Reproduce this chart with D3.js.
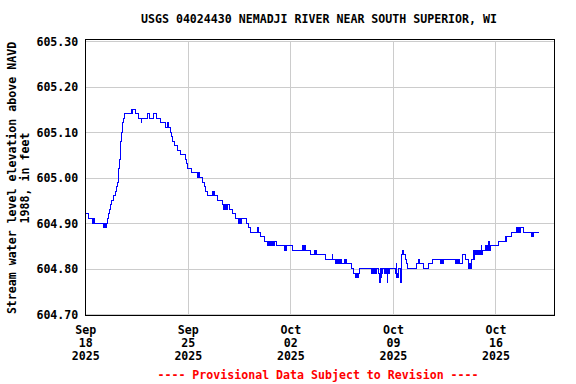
<!DOCTYPE html>
<html>
<head>
<meta charset="utf-8">
<script src="https://cdn.jsdelivr.net/npm/d3@7"></script>
<style>
  body { margin: 0; background: #fff; }
  svg text { font-family: "DejaVu Sans Mono", monospace; font-weight: bold; font-size: 11.6px; }
</style>
</head>
<body>
<svg id="chart"></svg>
<script>
// gage readings: [days since Sep 18 2025 00:00, elevation ft]
const gage = [
  [0.00, 604.92], [0.23, 604.91],
  [0.46, 604.90], [0.50, 604.91], [0.54, 604.90], [0.58, 604.91], [0.62, 604.90],
  [1.23, 604.89], [1.27, 604.90], [1.31, 604.89], [1.35, 604.90], [1.39, 604.89],
  [1.45, 604.90], [1.50, 604.91], [1.56, 604.92], [1.62, 604.93], [1.73, 604.94],
  [1.82, 604.95], [1.91, 604.96], [2.07, 604.97], [2.14, 604.98], [2.18, 604.99],
  [2.24, 605.00], [2.28, 605.02], [2.35, 605.04], [2.38, 605.06], [2.41, 605.08],
  [2.48, 605.10], [2.55, 605.12], [2.59, 605.13], [2.66, 605.14],
  [3.14, 605.15], [3.17, 605.14], [3.20, 605.15], [3.44, 605.14], [3.62, 605.13],
  [3.82, 605.12], [3.86, 605.13], [4.23, 605.14], [4.41, 605.13], [4.64, 605.14],
  [4.87, 605.13], [5.12, 605.12], [5.46, 605.11], [5.64, 605.12], [5.68, 605.11],
  [5.83, 605.10], [5.89, 605.09], [5.96, 605.08], [6.08, 605.07], [6.32, 605.06],
  [6.49, 605.05], [6.83, 605.04], [6.94, 605.03], [7.01, 605.02], [7.22, 605.01],
  [7.64, 605.00], [7.68, 605.01], [7.72, 605.00], [7.75, 605.01], [7.78, 605.00],
  [7.98, 604.99], [8.12, 604.98], [8.23, 604.97], [8.32, 604.96],
  [8.69, 604.97], [8.73, 604.96], [8.77, 604.97], [8.80, 604.96],
  [9.03, 604.95], [9.35, 604.94],
  [9.41, 604.93], [9.45, 604.94], [9.49, 604.93], [9.53, 604.94], [9.57, 604.93],
  [9.61, 604.94], [9.65, 604.93], [9.70, 604.94], [9.87, 604.93], [10.05, 604.92],
  [10.28, 604.91], [10.49, 604.90], [10.53, 604.91], [10.57, 604.90], [10.61, 604.91],
  [10.64, 604.90], [10.67, 604.91], [11.01, 604.90], [11.12, 604.89], [11.30, 604.88],
  [11.73, 604.89], [11.85, 604.88], [11.99, 604.87], [12.21, 604.86],
  [12.44, 604.85], [12.48, 604.86], [12.52, 604.85], [12.56, 604.86], [12.60, 604.85],
  [12.64, 604.86], [12.68, 604.85], [12.72, 604.86], [12.76, 604.85], [12.80, 604.86],
  [12.84, 604.85], [12.89, 604.86], [13.06, 604.85],
  [13.57, 604.84], [13.61, 604.85], [13.65, 604.84], [13.69, 604.85], [13.73, 604.84],
  [13.76, 604.85], [14.12, 604.84],
  [14.80, 604.85], [14.84, 604.84], [14.88, 604.85], [14.92, 604.84], [14.96, 604.85],
  [15.00, 604.84], [15.03, 604.85], [15.05, 604.84], [15.40, 604.83],
  [15.67, 604.84], [15.71, 604.83], [15.75, 604.84], [15.79, 604.83],
  [16.42, 604.82], [16.85, 604.83], [16.88, 604.82],
  [17.10, 604.81], [17.14, 604.82], [17.18, 604.81], [17.22, 604.82], [17.26, 604.81],
  [17.37, 604.82], [17.41, 604.81], [17.45, 604.82], [17.49, 604.81],
  [17.71, 604.82], [17.75, 604.81], [17.79, 604.82], [17.83, 604.81],
  [18.17, 604.80], [18.33, 604.79],
  [18.44, 604.78], [18.48, 604.79], [18.52, 604.78], [18.56, 604.79], [18.60, 604.78],
  [18.64, 604.79], [18.74, 604.80],
  [19.54, 604.79], [19.58, 604.80], [19.62, 604.79], [19.66, 604.80], [19.70, 604.79],
  [19.74, 604.80], [19.78, 604.79], [19.82, 604.80], [19.86, 604.79], [19.88, 604.80],
  [20.05, 604.79], [20.09, 604.77], [20.13, 604.79], [20.17, 604.80], [20.21, 604.78],
  [20.25, 604.80], [20.27, 604.79], [20.29, 604.80],
  [20.44, 604.79], [20.48, 604.80], [20.52, 604.79], [20.56, 604.80], [20.60, 604.77],
  [20.63, 604.79], [20.67, 604.80], [20.71, 604.79], [20.75, 604.80],
  [21.19, 604.79], [21.23, 604.81], [21.26, 604.78], [21.30, 604.79], [21.34, 604.78],
  [21.38, 604.80], [21.51, 604.77], [21.56, 604.80], [21.58, 604.82], [21.62, 604.83],
  [21.69, 604.84], [21.74, 604.83], [21.86, 604.82], [21.92, 604.81], [22.03, 604.80],
  [22.61, 604.81], [22.78, 604.82], [22.82, 604.81], [23.06, 604.80], [23.40, 604.81],
  [23.68, 604.82],
  [24.24, 604.81], [24.28, 604.82], [24.32, 604.81], [24.36, 604.82], [24.40, 604.81],
  [24.44, 604.82],
  [25.25, 604.81], [25.33, 604.82], [25.40, 604.81], [25.48, 604.82], [25.55, 604.81],
  [25.72, 604.83], [25.95, 604.82],
  [26.13, 604.81], [26.17, 604.80], [26.21, 604.81], [26.25, 604.80], [26.29, 604.81],
  [26.33, 604.80], [26.36, 604.82],
  [26.47, 604.83], [26.51, 604.84], [26.55, 604.82], [26.59, 604.84], [26.63, 604.83],
  [26.67, 604.84], [26.70, 604.83], [26.74, 604.84], [26.78, 604.83], [26.82, 604.84],
  [26.86, 604.83], [26.90, 604.84], [26.94, 604.83], [26.98, 604.84], [27.02, 604.83],
  [27.04, 604.85], [27.07, 604.84], [27.11, 604.83], [27.15, 604.84],
  [27.33, 604.85], [27.37, 604.84], [27.41, 604.85], [27.45, 604.84], [27.49, 604.85],
  [27.53, 604.84], [27.56, 604.86], [27.60, 604.85], [27.63, 604.84], [27.65, 604.85],
  [28.22, 604.86], [28.68, 604.87], [28.72, 604.86], [28.76, 604.87],
  [29.09, 604.88],
  [29.47, 604.89], [29.51, 604.88], [29.55, 604.89], [29.59, 604.88], [29.63, 604.89],
  [29.67, 604.88], [29.72, 604.89], [29.95, 604.88],
  [30.45, 604.87], [30.49, 604.88], [30.53, 604.87], [30.57, 604.88],
  [30.97, 604.88]
];

const yTicks = [604.70, 604.80, 604.90, 605.00, 605.10, 605.20, 605.30];
const xTickDays = [0, 7, 14, 21, 28];
const xTickLabels = [["Sep", "18", "2025"], ["Sep", "25", "2025"], ["Oct", "02", "2025"],
                     ["Oct", "09", "2025"], ["Oct", "16", "2025"]];
const title = "USGS 04024430 NEMADJI RIVER NEAR SOUTH SUPERIOR, WI";
const yTitle = ["Stream water level elevation above NAVD", "1988, in feet"];
const footer = "---- Provisional Data Subject to Revision ----";

const width = 576, height = 384;
const plotLeft = 85.3, plotRight = 554, plotTop = 41, plotBottom = 314;

const start = new Date(2025, 8, 18);
const toDate = (d) => d3.timeMinute.offset(start, Math.round(d * 1440));

const x = d3.scaleTime().domain([start, toDate(32)]).range([plotLeft, plotRight]);
const y = d3.scaleLinear().domain([604.70, 605.30]).range([plotBottom, plotTop]);

const svg = d3.select("#chart")
  .attr("width", width)
  .attr("height", height)
  .attr("viewBox", [0, 0, width, height]);

// grid
svg.append("g")
  .attr("transform", `translate(${plotLeft},0)`)
  .call(d3.axisLeft(y).tickValues(yTicks).tickSize(-(plotRight - plotLeft)).tickFormat(""))
  .call(g => g.select(".domain").remove())
  .call(g => g.selectAll("line").attr("stroke", "#cccccc").attr("shape-rendering", "crispEdges"));

svg.append("g")
  .attr("transform", `translate(0,${plotBottom})`)
  .call(d3.axisBottom(x).tickValues(xTickDays.map(toDate)).tickSize(-(plotBottom - plotTop)).tickFormat(""))
  .call(g => g.select(".domain").remove())
  .call(g => g.selectAll("line").attr("stroke", "#cccccc").attr("shape-rendering", "crispEdges"));

// data line
const line = d3.line()
  .x(d => x(toDate(d[0])))
  .y(d => y(d[1]))
  .curve(d3.curveStepAfter);

svg.append("path")
  .datum(gage)
  .attr("fill", "none")
  .attr("stroke", "#0000ff")
  .attr("stroke-width", 1)
  .attr("shape-rendering", "crispEdges")
  .attr("d", line);

// frame
svg.append("rect")
  .attr("x", 85.5).attr("y", 39.5)
  .attr("width", 469).attr("height", 276)
  .attr("fill", "none")
  .attr("stroke", "#000")
  .attr("stroke-width", 1);

// y labels
svg.append("g")
  .attr("transform", `translate(${plotLeft},0)`)
  .call(d3.axisLeft(y).tickValues(yTicks).tickSize(0).tickPadding(7).tickFormat(d3.format(".2f")))
  .call(g => g.select(".domain").remove())
  .call(g => g.selectAll("text")
    .attr("font-family", null).attr("font-size", null)
    .attr("fill", "#000").attr("dy", "0.35em"));

// x labels, three lines each
svg.append("g")
  .attr("transform", `translate(0,315)`)
  .call(d3.axisBottom(x).tickValues(xTickDays.map(toDate)).tickSize(0).tickFormat(""))
  .call(g => g.select(".domain").remove())
  .call(g => g.selectAll(".tick text")
    .attr("y", 19).attr("dy", null).attr("fill", "#000")
    .each(function (d, i) {
      d3.select(this).selectAll("tspan")
        .data(xTickLabels[i])
        .join("tspan")
        .attr("x", 0)
        .attr("dy", (t, j) => j === 0 ? 0 : 13)
        .text(t => t);
    }));

// titles
svg.append("text")
  .attr("x", 319).attr("y", 23)
  .attr("text-anchor", "middle")
  .text(title);

svg.append("g")
  .attr("transform", "translate(16,178) rotate(-90)")
  .selectAll("text")
  .data(yTitle)
  .join("text")
  .attr("x", 0)
  .attr("y", (d, i) => i * 13)
  .attr("text-anchor", "middle")
  .text(d => d);

svg.append("text")
  .attr("x", 318).attr("y", 379)
  .attr("text-anchor", "middle")
  .attr("fill", "#ff0000")
  .text(footer);
</script>
</body>
</html>
